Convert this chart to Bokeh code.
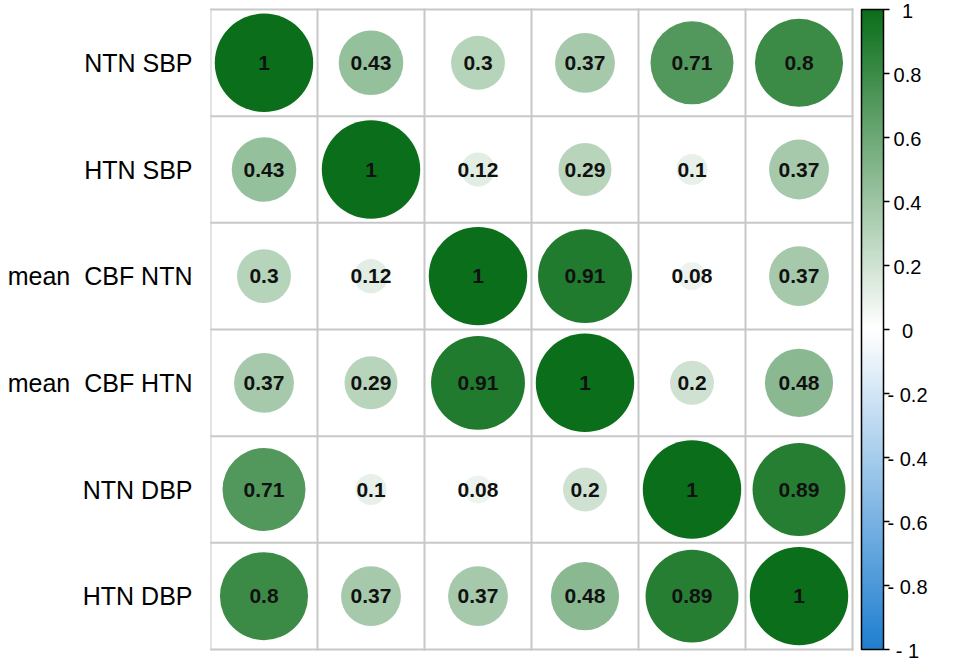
import numpy as np
from bokeh.plotting import figure
from bokeh.models import ColumnDataSource, FixedTicker, LinearColorMapper, Range1d
from bokeh.embed import file_html
from bokeh.resources import INLINE
from bokeh.core.properties import value

variables = ["NTN SBP", "HTN SBP", "mean\u00a0 CBF NTN", "mean\u00a0 CBF HTN", "NTN DBP", "HTN DBP"]
corr = [
    [1, 0.43, 0.3, 0.37, 0.71, 0.8],
    [0.43, 1, 0.12, 0.29, 0.1, 0.37],
    [0.3, 0.12, 1, 0.91, 0.08, 0.37],
    [0.37, 0.29, 0.91, 1, 0.2, 0.48],
    [0.71, 0.1, 0.08, 0.2, 1, 0.89],
    [0.8, 0.37, 0.37, 0.48, 0.89, 1],
]
cb_ticks = [-1, -0.8, -0.6, -0.4, -0.2, 0, 0.2, 0.4, 0.6, 0.8, 1]
cb_labels = ["- 1", "- 0.8", "- 0.6", "- 0.4", "- 0.2", "0", "0.2", "0.4", "0.6", "0.8", "1"]


def lerp(c1, c2, t):
    return "#%02x%02x%02x" % tuple(int(round(a + (b - a) * t)) for a, b in zip(c1, c2))


blue = (0x1F, 0x7F, 0xCF)
white = (0xFF, 0xFF, 0xFF)
green = (0x0B, 0x6E, 0x1A)
N = 128
palette = [lerp(blue, white, i / (N - 1)) for i in range(N)] + \
          [lerp(white, green, i / (N - 1)) for i in range(N)]
mapper = LinearColorMapper(palette=palette, low=-1, high=1)

n = len(variables)
xs, ys, vals, rads, labels = [], [], [], [], []
for i in range(n):
    for j in range(n):
        v = corr[i][j]
        xs.append(j + 0.5)
        ys.append(n - i - 0.5)
        vals.append(v)
        rads.append(0.46 * abs(v) ** 0.5)
        labels.append("%g" % v)
src = ColumnDataSource(dict(x=xs, y=ys, v=vals, r=rads, t=labels))

# layout geometry (pixels)
cell_w = 107.0          # px per matrix column
cell_h = 640.0 / n      # px per matrix row
top_pad = 9.0           # px between figure top and matrix top
bot_pad = 13.0          # px below matrix bottom
frame_w, frame_h = 740, int(640 + top_pad + bot_pad)

p = figure(frame_width=frame_w, frame_height=frame_h,
           x_range=Range1d(0, frame_w / cell_w),
           y_range=Range1d(-bot_pad / cell_h, n + top_pad / cell_h),
           output_backend="svg", toolbar_location=None, min_border_left=210,
           min_border_top=0, min_border_bottom=0, min_border_right=0)
p.background_fill_color = "white"
p.outline_line_color = None
p.xgrid.visible = False
p.ygrid.visible = False
p.xaxis.visible = False

# matrix grid lines
gpos = list(range(n + 1))
p.segment(x0=gpos, x1=gpos, y0=[0] * (n + 1), y1=[n] * (n + 1),
          line_color="#c8c8c8", line_width=2, line_cap="square")
p.segment(x0=[0] * (n + 1), x1=[n] * (n + 1), y0=gpos, y1=gpos,
          line_color="#c8c8c8", line_width=2, line_cap="square")

p.circle(x="x", y="y", radius="r", source=src,
         fill_color={"field": "v", "transform": mapper}, line_color=None)
p.text(x="x", y="y", text="t", source=src, text_align="center", text_baseline="middle",
       text_font=value("Liberation Sans"), text_font_style="bold", text_font_size="21px",
       text_color="#111111")

ypos = [n - i - 0.5 for i in range(n)]
p.yaxis.ticker = FixedTicker(ticks=ypos)
p.yaxis.major_label_overrides = {y: lab for y, lab in zip(ypos, variables)}
p.yaxis.axis_line_color = None
p.yaxis.major_tick_line_color = None
p.yaxis.minor_tick_line_color = None
p.yaxis.major_label_standoff = 12
p.yaxis.major_label_text_font = "Liberation Sans"
p.yaxis.major_label_text_font_size = "25px"
p.yaxis.major_label_text_color = "black"

# colour bar: its own ranges (x in px from bar left, y in correlation value)
bar_left = n * cell_w + 9   # px from frame left
vscale = 640.0 / 2
p.extra_x_ranges = {"cbx": Range1d(-bar_left, frame_w - bar_left)}
p.extra_y_ranges = {"cby": Range1d(-1 - bot_pad / vscale, 1 + top_pad / vscale)}
grad = np.linspace(-1, 1, 256).reshape(256, 1)
p.image(image=[grad], x=0, y=-1, dw=22, dh=2, color_mapper=mapper,
        x_range_name="cbx", y_range_name="cby")
p.quad(left=0, right=22, bottom=-1, top=1, fill_color=None, line_color="black",
       line_width=1.5, x_range_name="cbx", y_range_name="cby")
p.segment(x0=22, x1=28, y0=cb_ticks, y1=cb_ticks, line_color="black", line_width=1.5,
          x_range_name="cbx", y_range_name="cby")
p.text(x=46, y=cb_ticks, text=cb_labels, text_align="center", text_baseline="middle",
       y_offset=1, text_font=value("Liberation Sans"), text_font_size="20px",
       text_color="black", x_range_name="cbx", y_range_name="cby")

open("out.html", "w").write(file_html(p, INLINE))
